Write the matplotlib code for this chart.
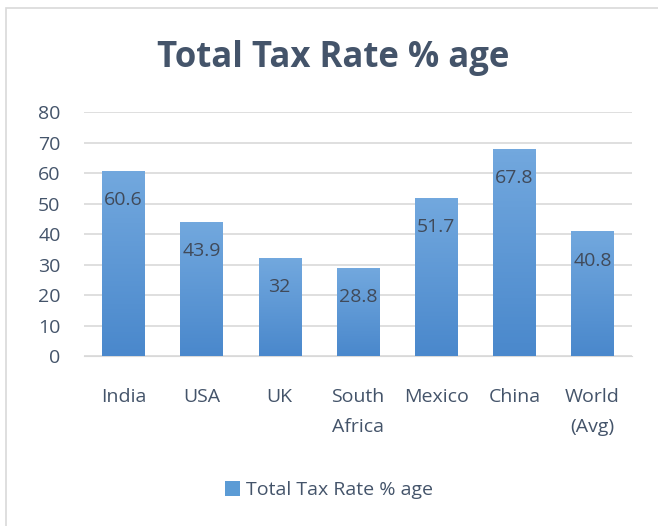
import matplotlib
matplotlib.use("Agg")
import matplotlib.pyplot as plt
import numpy as np
from matplotlib.colors import LinearSegmentedColormap
from matplotlib.patches import Rectangle

categories = ["India", "USA", "UK", "South\nAfrica", "Mexico", "China", "World\n(Avg)"]
values = [60.6, 43.9, 32, 28.8, 51.7, 67.8, 40.8]
title = "Total Tax Rate % age"
series_name = "Total Tax Rate % age"

plt.rcParams["font.family"] = ["Open Sans", "DejaVu Sans"]

fig = plt.figure(figsize=(6.58, 5.26), dpi=100)
ax = fig.add_axes([0.128, 0.323, 0.832, 0.464])

grad = LinearSegmentedColormap.from_list("bar", ["#4a88cc", "#72a8de"])
x = np.arange(len(categories))
bars = ax.bar(x, values, width=0.54, color="#5b9bd5", zorder=2, label=series_name)
ramp = np.linspace(0, 1, 64).reshape(-1, 1)
for b in bars:
    x0, w, h = b.get_x(), b.get_width(), b.get_height()
    ax.imshow(ramp, cmap=grad, origin="lower", aspect="auto",
              extent=[x0, x0 + w, 0, h], zorder=3)

for xi, v in zip(x, values):
    ax.text(xi, v - 9.5, f"{v:g}", ha="center", va="center", fontsize=14,
            color="#404a5a", zorder=4)

ax.set_xlim(-0.5, len(categories) - 0.5)
ax.set_ylim(0, 80)
ax.set_yticks(range(0, 81, 10))
ax.yaxis.grid(True, color="#d9d9d9", linewidth=1.2, zorder=0)
ax.set_axisbelow(True)
for s in ["top", "right", "left"]:
    ax.spines[s].set_visible(False)
ax.spines["bottom"].set_color("#d9d9d9")
ax.tick_params(length=0, labelsize=14, colors="#44546a")
ax.tick_params(axis="y", pad=17)
ax.tick_params(axis="x", pad=23)
ax.set_xticks(x)
ax.set_xticklabels(categories, linespacing=1.85)

fig.text(0.506, 0.89, title, ha="center", va="center", fontsize=25,
         fontweight="bold", color="#44546a")

fig.legend(handles=[bars], labels=[series_name], loc="center",
           bbox_to_anchor=(0.5, 0.068), frameon=False, fontsize=14,
           handlelength=0.75, handleheight=0.75, handletextpad=0.3,
           labelcolor="#44546a")

fig.patches.append(Rectangle((0.009, -0.1), 1.1, 1.085, transform=fig.transFigure,
                             fill=False, edgecolor="#d9d9d9", linewidth=1.2))

fig.savefig("out.png", dpi=100)
